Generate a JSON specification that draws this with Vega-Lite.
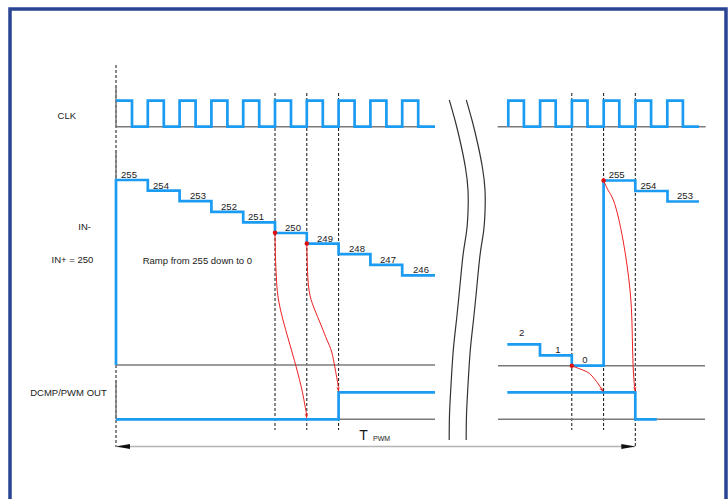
{
  "$schema": "https://vega.github.io/schema/vega-lite/v6.json",
  "width": 728,
  "height": 499,
  "autosize": {"type": "fit", "contains": "padding"},
  "padding": 0,
  "background": "white",
  "config": {"view": {"stroke": null}},
  "datasets": {
    "frame": [{"x": 10, "y": 9, "x2": 726, "y2": 506}],
    "rules": [
      {"kind": "dash", "x": 116, "y": 65, "x2": 116, "y2": 447},
      {"kind": "dash", "x": 275, "y": 93, "x2": 275, "y2": 430},
      {"kind": "dash", "x": 306.8, "y": 93, "x2": 306.8, "y2": 430},
      {"kind": "dash", "x": 338.6, "y": 93, "x2": 338.6, "y2": 430},
      {"kind": "dash", "x": 571.8, "y": 93, "x2": 571.8, "y2": 430},
      {"kind": "dash", "x": 603.6, "y": 93, "x2": 603.6, "y2": 430},
      {"kind": "dash", "x": 635.3, "y": 93, "x2": 635.3, "y2": 447},
      {"kind": "axis", "x": 116, "y": 126.7, "x2": 435, "y2": 126.7},
      {"kind": "axis", "x": 116, "y": 87, "x2": 116, "y2": 126.7},
      {"kind": "axis", "x": 116, "y": 365, "x2": 435, "y2": 365},
      {"kind": "axis", "x": 116, "y": 150, "x2": 116, "y2": 365},
      {"kind": "axis", "x": 116, "y": 419.3, "x2": 435, "y2": 419.3},
      {"kind": "axis", "x": 116, "y": 380, "x2": 116, "y2": 419.3},
      {"kind": "axis", "x": 497.7, "y": 126.7, "x2": 705.7, "y2": 126.7},
      {"kind": "axis", "x": 498, "y": 365.7, "x2": 705, "y2": 365.7},
      {"kind": "axis", "x": 498, "y": 419.3, "x2": 705, "y2": 419.3},
      {"kind": "tline", "x": 116, "y": 446.5, "x2": 635.3, "y2": 446.5}
    ],
    "waves": [
      {"id": "c1", "i": 0, "x": 116, "y": 100.7},
      {"id": "c1", "i": 1, "x": 132, "y": 126.7},
      {"id": "c1", "i": 2, "x": 147.8, "y": 100.7},
      {"id": "c1", "i": 3, "x": 163.8, "y": 126.7},
      {"id": "c1", "i": 4, "x": 179.6, "y": 100.7},
      {"id": "c1", "i": 5, "x": 195.6, "y": 126.7},
      {"id": "c1", "i": 6, "x": 211.4, "y": 100.7},
      {"id": "c1", "i": 7, "x": 227.4, "y": 126.7},
      {"id": "c1", "i": 8, "x": 243.2, "y": 100.7},
      {"id": "c1", "i": 9, "x": 259.2, "y": 126.7},
      {"id": "c1", "i": 10, "x": 275, "y": 100.7},
      {"id": "c1", "i": 11, "x": 291, "y": 126.7},
      {"id": "c1", "i": 12, "x": 306.8, "y": 100.7},
      {"id": "c1", "i": 13, "x": 322.8, "y": 126.7},
      {"id": "c1", "i": 14, "x": 338.6, "y": 100.7},
      {"id": "c1", "i": 15, "x": 354.6, "y": 126.7},
      {"id": "c1", "i": 16, "x": 370.4, "y": 100.7},
      {"id": "c1", "i": 17, "x": 386.4, "y": 126.7},
      {"id": "c1", "i": 18, "x": 402.2, "y": 100.7},
      {"id": "c1", "i": 19, "x": 418.2, "y": 126.7},
      {"id": "c1", "i": 20, "x": 435, "y": 126.7},
      {"id": "c2", "i": 0, "x": 508.3, "y": 126.7},
      {"id": "c2", "i": 1, "x": 508.3, "y": 100.7},
      {"id": "c2", "i": 2, "x": 523.9, "y": 126.7},
      {"id": "c2", "i": 3, "x": 540.1, "y": 100.7},
      {"id": "c2", "i": 4, "x": 555.7, "y": 126.7},
      {"id": "c2", "i": 5, "x": 571.9, "y": 100.7},
      {"id": "c2", "i": 6, "x": 587.5, "y": 126.7},
      {"id": "c2", "i": 7, "x": 603.7, "y": 100.7},
      {"id": "c2", "i": 8, "x": 619.3, "y": 126.7},
      {"id": "c2", "i": 9, "x": 635.5, "y": 100.7},
      {"id": "c2", "i": 10, "x": 651.1, "y": 126.7},
      {"id": "c2", "i": 11, "x": 667.3, "y": 100.7},
      {"id": "c2", "i": 12, "x": 682.9, "y": 126.7},
      {"id": "c2", "i": 13, "x": 699, "y": 126.7},
      {"id": "n1", "i": 0, "x": 116, "y": 365},
      {"id": "n1", "i": 1, "x": 116, "y": 180},
      {"id": "n1", "i": 2, "x": 147.8, "y": 190.6},
      {"id": "n1", "i": 3, "x": 179.6, "y": 201.2},
      {"id": "n1", "i": 4, "x": 211.4, "y": 211.8},
      {"id": "n1", "i": 5, "x": 243.2, "y": 222.4},
      {"id": "n1", "i": 6, "x": 275, "y": 233},
      {"id": "n1", "i": 7, "x": 306.8, "y": 243.6},
      {"id": "n1", "i": 8, "x": 338.6, "y": 254.2},
      {"id": "n1", "i": 9, "x": 370.4, "y": 264.8},
      {"id": "n1", "i": 10, "x": 402.2, "y": 275.4},
      {"id": "n1", "i": 11, "x": 435, "y": 275.4},
      {"id": "n2", "i": 0, "x": 507.3, "y": 344.3},
      {"id": "n2", "i": 1, "x": 540, "y": 355.3},
      {"id": "n2", "i": 2, "x": 571.8, "y": 365.7},
      {"id": "n2", "i": 3, "x": 603.6, "y": 180.5},
      {"id": "n2", "i": 4, "x": 635.3, "y": 191},
      {"id": "n2", "i": 5, "x": 667.5, "y": 201.5},
      {"id": "n2", "i": 6, "x": 699, "y": 201.5},
      {"id": "o1", "i": 0, "x": 116, "y": 419.3},
      {"id": "o1", "i": 1, "x": 338.6, "y": 392.3},
      {"id": "o1", "i": 2, "x": 435, "y": 392.3},
      {"id": "o2", "i": 0, "x": 507.3, "y": 392.3},
      {"id": "o2", "i": 1, "x": 635.3, "y": 419.3},
      {"id": "o2", "i": 2, "x": 656.7, "y": 419.3}
    ],
    "curves": [
      {"kind": "red", "id": "rA", "i": 0, "x": 275, "y": 232.5},
      {"kind": "red", "id": "rA", "i": 1, "x": 275.4, "y": 255},
      {"kind": "red", "id": "rA", "i": 2, "x": 276.5, "y": 280},
      {"kind": "red", "id": "rA", "i": 3, "x": 278.5, "y": 300},
      {"kind": "red", "id": "rA", "i": 4, "x": 283, "y": 320},
      {"kind": "red", "id": "rA", "i": 5, "x": 288, "y": 338},
      {"kind": "red", "id": "rA", "i": 6, "x": 292, "y": 352},
      {"kind": "red", "id": "rA", "i": 7, "x": 297, "y": 370},
      {"kind": "red", "id": "rA", "i": 8, "x": 301.5, "y": 388},
      {"kind": "red", "id": "rA", "i": 9, "x": 304.5, "y": 403},
      {"kind": "red", "id": "rA", "i": 10, "x": 306.5, "y": 414},
      {"kind": "red", "id": "rB", "i": 0, "x": 306.8, "y": 243.5},
      {"kind": "red", "id": "rB", "i": 1, "x": 307.3, "y": 265},
      {"kind": "red", "id": "rB", "i": 2, "x": 309, "y": 290},
      {"kind": "red", "id": "rB", "i": 3, "x": 314, "y": 308},
      {"kind": "red", "id": "rB", "i": 4, "x": 321, "y": 325},
      {"kind": "red", "id": "rB", "i": 5, "x": 327, "y": 340},
      {"kind": "red", "id": "rB", "i": 6, "x": 331.7, "y": 352},
      {"kind": "red", "id": "rB", "i": 7, "x": 335, "y": 368},
      {"kind": "red", "id": "rB", "i": 8, "x": 337.2, "y": 380},
      {"kind": "red", "id": "rB", "i": 9, "x": 338.3, "y": 387.5},
      {"kind": "red", "id": "rC", "i": 0, "x": 571.8, "y": 365.7},
      {"kind": "red", "id": "rC", "i": 1, "x": 578.3, "y": 368.3},
      {"kind": "red", "id": "rC", "i": 2, "x": 586.7, "y": 371.7},
      {"kind": "red", "id": "rC", "i": 3, "x": 592, "y": 376},
      {"kind": "red", "id": "rC", "i": 4, "x": 596.7, "y": 381.7},
      {"kind": "red", "id": "rC", "i": 5, "x": 601, "y": 388},
      {"kind": "red", "id": "rD", "i": 0, "x": 603.6, "y": 180.5},
      {"kind": "red", "id": "rD", "i": 1, "x": 608, "y": 190},
      {"kind": "red", "id": "rD", "i": 2, "x": 613.3, "y": 200},
      {"kind": "red", "id": "rD", "i": 3, "x": 618.5, "y": 218},
      {"kind": "red", "id": "rD", "i": 4, "x": 623, "y": 240},
      {"kind": "red", "id": "rD", "i": 5, "x": 627, "y": 265},
      {"kind": "red", "id": "rD", "i": 6, "x": 630, "y": 290},
      {"kind": "red", "id": "rD", "i": 7, "x": 631.7, "y": 315},
      {"kind": "red", "id": "rD", "i": 8, "x": 632.5, "y": 345},
      {"kind": "red", "id": "rD", "i": 9, "x": 633.3, "y": 370},
      {"kind": "red", "id": "rD", "i": 10, "x": 634.6, "y": 387.5},
      {"kind": "brk", "id": "b1", "i": 0, "x": 449.3, "y": 100},
      {"kind": "brk", "id": "b1", "i": 1, "x": 455.5, "y": 122},
      {"kind": "brk", "id": "b1", "i": 2, "x": 461, "y": 145},
      {"kind": "brk", "id": "b1", "i": 3, "x": 465.5, "y": 168},
      {"kind": "brk", "id": "b1", "i": 4, "x": 468, "y": 190},
      {"kind": "brk", "id": "b1", "i": 5, "x": 468, "y": 212},
      {"kind": "brk", "id": "b1", "i": 6, "x": 466.5, "y": 232},
      {"kind": "brk", "id": "b1", "i": 7, "x": 463.3, "y": 253},
      {"kind": "brk", "id": "b1", "i": 8, "x": 460, "y": 285},
      {"kind": "brk", "id": "b1", "i": 9, "x": 456.5, "y": 320},
      {"kind": "brk", "id": "b1", "i": 10, "x": 453.3, "y": 350},
      {"kind": "brk", "id": "b1", "i": 11, "x": 451, "y": 385},
      {"kind": "brk", "id": "b1", "i": 12, "x": 449.5, "y": 415},
      {"kind": "brk", "id": "b1", "i": 13, "x": 449.2, "y": 440},
      {"kind": "brk", "id": "b2", "i": 0, "x": 466.3, "y": 100},
      {"kind": "brk", "id": "b2", "i": 1, "x": 472.5, "y": 122},
      {"kind": "brk", "id": "b2", "i": 2, "x": 478, "y": 145},
      {"kind": "brk", "id": "b2", "i": 3, "x": 482.5, "y": 168},
      {"kind": "brk", "id": "b2", "i": 4, "x": 485, "y": 190},
      {"kind": "brk", "id": "b2", "i": 5, "x": 485, "y": 212},
      {"kind": "brk", "id": "b2", "i": 6, "x": 483.5, "y": 232},
      {"kind": "brk", "id": "b2", "i": 7, "x": 480.3, "y": 253},
      {"kind": "brk", "id": "b2", "i": 8, "x": 477, "y": 285},
      {"kind": "brk", "id": "b2", "i": 9, "x": 473.5, "y": 320},
      {"kind": "brk", "id": "b2", "i": 10, "x": 470.3, "y": 350},
      {"kind": "brk", "id": "b2", "i": 11, "x": 468, "y": 385},
      {"kind": "brk", "id": "b2", "i": 12, "x": 466.5, "y": 415},
      {"kind": "brk", "id": "b2", "i": 13, "x": 466.2, "y": 440}
    ],
    "points": [
      {"kind": "dot", "x": 275, "y": 232.8, "angle": 0},
      {"kind": "dot", "x": 306.8, "y": 243.6, "angle": 0},
      {"kind": "dot", "x": 571.8, "y": 365.7, "angle": 0},
      {"kind": "dot", "x": 603.6, "y": 180.5, "angle": 0},
      {"kind": "redhead", "x": 306.8, "y": 419, "angle": 354},
      {"kind": "redhead", "x": 338.6, "y": 392.3, "angle": 353},
      {"kind": "redhead", "x": 603.6, "y": 392.3, "angle": 327},
      {"kind": "redhead", "x": 635.3, "y": 392.3, "angle": 355},
      {"kind": "blackhead", "x": 116, "y": 446.5, "angle": 90},
      {"kind": "blackhead", "x": 635.3, "y": 446.5, "angle": 270}
    ],
    "labels": [
      {"kind": "right", "text": "CLK", "x": 76, "y": 116},
      {"kind": "right", "text": "IN-", "x": 91, "y": 227.3},
      {"kind": "right", "text": "IN+ = 250", "x": 93.3, "y": 260},
      {"kind": "right", "text": "DCMP/PWM OUT", "x": 106.7, "y": 392.7},
      {"kind": "left", "text": "Ramp from 255 down to 0", "x": 142.7, "y": 260.7},
      {"kind": "step", "text": "255", "x": 129, "y": 175},
      {"kind": "step", "text": "254", "x": 161, "y": 185.6},
      {"kind": "step", "text": "253", "x": 198, "y": 196.2},
      {"kind": "step", "text": "252", "x": 229, "y": 206.8},
      {"kind": "step", "text": "251", "x": 256, "y": 217.4},
      {"kind": "step", "text": "250", "x": 293, "y": 228},
      {"kind": "step", "text": "249", "x": 325, "y": 238.6},
      {"kind": "step", "text": "248", "x": 357, "y": 249.2},
      {"kind": "step", "text": "247", "x": 388, "y": 259.8},
      {"kind": "step", "text": "246", "x": 421, "y": 270.4},
      {"kind": "step", "text": "2", "x": 521.7, "y": 333},
      {"kind": "step", "text": "1", "x": 558, "y": 350},
      {"kind": "step", "text": "0", "x": 585, "y": 360},
      {"kind": "step", "text": "255", "x": 616.7, "y": 175},
      {"kind": "step", "text": "254", "x": 648.3, "y": 186},
      {"kind": "step", "text": "253", "x": 685, "y": 196}
    ]
  },
  "encoding": {
    "x": {"field": "x", "type": "quantitative", "scale": {"domain": [0, 728], "nice": false, "zero": false}, "axis": null},
    "y": {"field": "y", "type": "quantitative", "scale": {"domain": [0, 499], "nice": false, "zero": false, "reverse": true}, "axis": null}
  },
  "layer": [
    {
      "data": {"name": "rules"},
      "transform": [{"filter": "datum.kind === 'dash'"}],
      "mark": {"type": "rule", "stroke": "#111111", "strokeWidth": 1, "strokeDash": [3, 2]},
      "encoding": {"x2": {"field": "x2"}, "y2": {"field": "y2"}}
    },
    {
      "data": {"name": "rules"},
      "transform": [{"filter": "datum.kind === 'axis'"}],
      "mark": {"type": "rule", "stroke": "#7a7a7a", "strokeWidth": 1.5},
      "encoding": {"x2": {"field": "x2"}, "y2": {"field": "y2"}}
    },
    {
      "data": {"name": "rules"},
      "transform": [{"filter": "datum.kind === 'tline'"}],
      "mark": {"type": "rule", "stroke": "#b4b4b4", "strokeWidth": 1.5},
      "encoding": {"x2": {"field": "x2"}, "y2": {"field": "y2"}}
    },
    {
      "data": {"name": "curves"},
      "transform": [{"filter": "datum.kind === 'brk'"}],
      "mark": {"type": "line", "interpolate": "natural", "stroke": "#333333", "strokeWidth": 1.2},
      "encoding": {"detail": {"field": "id"}, "order": {"field": "i", "type": "quantitative"}}
    },
    {
      "data": {"name": "waves"},
      "mark": {"type": "line", "interpolate": "step-after", "stroke": "#1b9cf2", "strokeWidth": 2.7},
      "encoding": {"detail": {"field": "id"}, "order": {"field": "i", "type": "quantitative"}}
    },
    {
      "data": {"name": "curves"},
      "transform": [{"filter": "datum.kind === 'red'"}],
      "mark": {"type": "line", "interpolate": "natural", "stroke": "#ee2020", "strokeWidth": 1},
      "encoding": {"detail": {"field": "id"}, "order": {"field": "i", "type": "quantitative"}}
    },
    {
      "data": {"name": "points"},
      "transform": [{"filter": "datum.kind === 'dot'"}],
      "mark": {"type": "point", "shape": "circle", "filled": true, "color": "#e01010", "size": 20, "opacity": 1}
    },
    {
      "data": {"name": "points"},
      "transform": [{"filter": "datum.kind === 'redhead'"}],
      "mark": {"type": "point", "shape": "M0,0L-0.45,-1.6L0,-1.2L0.45,-1.6Z", "filled": true, "color": "#ee2020", "size": 49, "opacity": 1},
      "encoding": {"angle": {"field": "angle", "type": "quantitative", "scale": null}}
    },
    {
      "data": {"name": "points"},
      "transform": [{"filter": "datum.kind === 'blackhead'"}],
      "mark": {"type": "point", "shape": "M0,0L-0.36,-2L0.36,-2Z", "filled": true, "color": "#111111", "size": 196, "opacity": 1},
      "encoding": {"angle": {"field": "angle", "type": "quantitative", "scale": null}}
    },
    {
      "data": {"name": "labels"},
      "transform": [{"filter": "datum.kind === 'right'"}],
      "mark": {"type": "text", "align": "right", "baseline": "middle", "font": "Liberation Sans", "fontSize": 9.5, "color": "#1a1a1a"},
      "encoding": {"text": {"field": "text"}}
    },
    {
      "data": {"name": "labels"},
      "transform": [{"filter": "datum.kind === 'left'"}],
      "mark": {"type": "text", "align": "left", "baseline": "middle", "font": "Liberation Sans", "fontSize": 9.5, "color": "#1a1a1a"},
      "encoding": {"text": {"field": "text"}}
    },
    {
      "data": {"name": "labels"},
      "transform": [{"filter": "datum.kind === 'step'"}],
      "mark": {"type": "text", "align": "center", "baseline": "middle", "font": "Liberation Sans", "fontSize": 9.5, "color": "#1a1a1a"},
      "encoding": {"text": {"field": "text"}}
    },
    {
      "data": {"values": [{"text": "T", "x": 363.5, "y": 435.5}]},
      "mark": {"type": "text", "align": "center", "baseline": "middle", "font": "Liberation Sans", "fontSize": 14, "color": "#1a1a1a"},
      "encoding": {"text": {"field": "text"}}
    },
    {
      "data": {"values": [{"text": "PWM", "x": 373, "y": 439}]},
      "mark": {"type": "text", "align": "left", "baseline": "middle", "font": "Liberation Sans", "fontSize": 7, "color": "#1a1a1a"},
      "encoding": {"text": {"field": "text"}}
    },
    {
      "data": {"name": "frame"},
      "mark": {"type": "rect", "clip": true, "fillOpacity": 0, "fill": "white", "stroke": "#2a4494", "strokeWidth": 3.5},
      "encoding": {"x2": {"field": "x2"}, "y2": {"field": "y2"}}
    }
  ]
}
